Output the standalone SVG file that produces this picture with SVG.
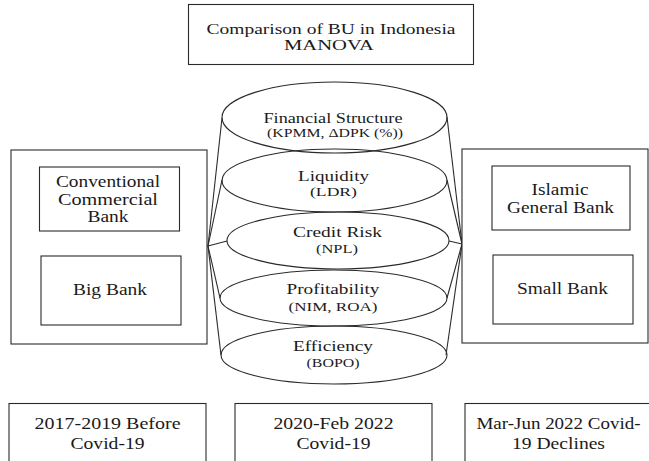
<svg xmlns="http://www.w3.org/2000/svg" width="649" height="461" viewBox="0 0 649 461">
<style>
.box{fill:#fff;stroke:#2a2a2a;stroke-width:1.1}
.ell{fill:none;stroke:#2a2a2a;stroke-width:1.1}
.ln{stroke:#2a2a2a;stroke-width:1.1;fill:none}
text{font-family:"Liberation Serif","Times New Roman",serif;fill:#1a1a1a;text-anchor:middle}
.t16{font-size:16px}
.t15{font-size:15px}
.t13{font-size:13px}
</style>
<rect width="649" height="461" fill="#fff"/>
<g id="title">
<rect class="box" x="188.5" y="4.5" width="285" height="60"/>
<text class="t15" x="331" y="34" textLength="249" lengthAdjust="spacingAndGlyphs">Comparison of BU in Indonesia</text>
<text class="t15" x="329" y="50" textLength="90" lengthAdjust="spacingAndGlyphs">MANOVA</text>
</g>
<g id="connectors">
<line class="ln" x1="208" y1="246" x2="222" y2="118"/>
<line class="ln" x1="208" y1="246" x2="222" y2="180"/>
<line class="ln" x1="208" y1="246" x2="227" y2="241"/>
<line class="ln" x1="208" y1="246" x2="220" y2="298"/>
<line class="ln" x1="208" y1="246" x2="221" y2="355"/>
<line class="ln" x1="462" y1="244" x2="447" y2="117"/>
<line class="ln" x1="462" y1="244" x2="447" y2="180"/>
<line class="ln" x1="462" y1="244" x2="449" y2="241"/>
<line class="ln" x1="462" y1="244" x2="447" y2="298"/>
<line class="ln" x1="462" y1="244" x2="446" y2="355"/>
</g>
<g id="financial-structure">
<ellipse class="ell" cx="334.5" cy="117.5" rx="112.5" ry="35.5"/>
<text class="t15" x="333" y="123" textLength="139" lengthAdjust="spacingAndGlyphs">Financial Structure</text>
<text class="t13" x="335" y="137" textLength="136" lengthAdjust="spacingAndGlyphs">(KPMM, ΔDPK (%))</text>
</g>
<g id="liquidity">
<ellipse class="ell" cx="334.5" cy="180.5" rx="112.5" ry="31.5"/>
<text class="t15" x="333.5" y="181" textLength="71" lengthAdjust="spacingAndGlyphs">Liquidity</text>
<text class="t13" x="333.5" y="196" textLength="47" lengthAdjust="spacingAndGlyphs">(LDR)</text>
</g>
<g id="credit-risk">
<ellipse class="ell" cx="338" cy="240.5" rx="111" ry="28.5"/>
<text class="t15" x="337.5" y="237" textLength="89" lengthAdjust="spacingAndGlyphs">Credit Risk</text>
<text class="t13" x="337" y="253" textLength="42" lengthAdjust="spacingAndGlyphs">(NPL)</text>
</g>
<g id="profitability">
<ellipse class="ell" cx="333.5" cy="298" rx="113.5" ry="28"/>
<text class="t15" x="333" y="294" textLength="93" lengthAdjust="spacingAndGlyphs">Profitability</text>
<text class="t13" x="333" y="311" textLength="89" lengthAdjust="spacingAndGlyphs">(NIM, ROA)</text>
</g>
<g id="efficiency">
<ellipse class="ell" cx="334" cy="355" rx="113" ry="29"/>
<text class="t15" x="333" y="351" textLength="80" lengthAdjust="spacingAndGlyphs">Efficiency</text>
<text class="t13" x="333" y="367" textLength="53" lengthAdjust="spacingAndGlyphs">(BOPO)</text>
</g>
<g id="left-group">
<rect class="box" x="11" y="150" width="196" height="194"/>
</g>
<g id="conventional-commercial-bank">
<rect class="box" x="39.5" y="167" width="140" height="64"/>
<text class="t16" x="108" y="187" textLength="104" lengthAdjust="spacingAndGlyphs">Conventional</text>
<text class="t16" x="108" y="205" textLength="100" lengthAdjust="spacingAndGlyphs">Commercial</text>
<text class="t16" x="108" y="222" textLength="41" lengthAdjust="spacingAndGlyphs">Bank</text>
</g>
<g id="big-bank">
<rect class="box" x="41" y="256" width="140" height="69"/>
<text class="t16" x="110" y="295" textLength="74" lengthAdjust="spacingAndGlyphs">Big Bank</text>
</g>
<g id="right-group">
<rect class="box" x="462" y="149" width="186" height="194"/>
</g>
<g id="islamic-general-bank">
<rect class="box" x="492" y="166" width="138" height="64"/>
<text class="t16" x="560" y="195" textLength="57" lengthAdjust="spacingAndGlyphs">Islamic</text>
<text class="t16" x="560.5" y="213" textLength="107" lengthAdjust="spacingAndGlyphs">General Bank</text>
</g>
<g id="small-bank">
<rect class="box" x="493" y="255" width="140" height="69"/>
<text class="t16" x="562.5" y="294" textLength="91" lengthAdjust="spacingAndGlyphs">Small Bank</text>
</g>
<g id="period-2017-2019">
<rect class="box" x="9" y="403.5" width="197" height="70"/>
<text class="t16" x="107.5" y="429" textLength="146" lengthAdjust="spacingAndGlyphs">2017-2019 Before</text>
<text class="t16" x="107.5" y="449" textLength="74" lengthAdjust="spacingAndGlyphs">Covid-19</text>
</g>
<g id="period-2020-2022">
<rect class="box" x="235" y="403.5" width="197" height="70"/>
<text class="t16" x="333.5" y="429" textLength="120" lengthAdjust="spacingAndGlyphs">2020-Feb 2022</text>
<text class="t16" x="333.5" y="449" textLength="74" lengthAdjust="spacingAndGlyphs">Covid-19</text>
</g>
<g id="period-mar-jun-2022">
<rect class="box" x="465" y="403.5" width="190" height="70"/>
<text class="t16" x="558.5" y="429" textLength="164" lengthAdjust="spacingAndGlyphs">Mar-Jun 2022 Covid-</text>
<text class="t16" x="558.5" y="449" textLength="93" lengthAdjust="spacingAndGlyphs">19 Declines</text>
</g>
</svg>
